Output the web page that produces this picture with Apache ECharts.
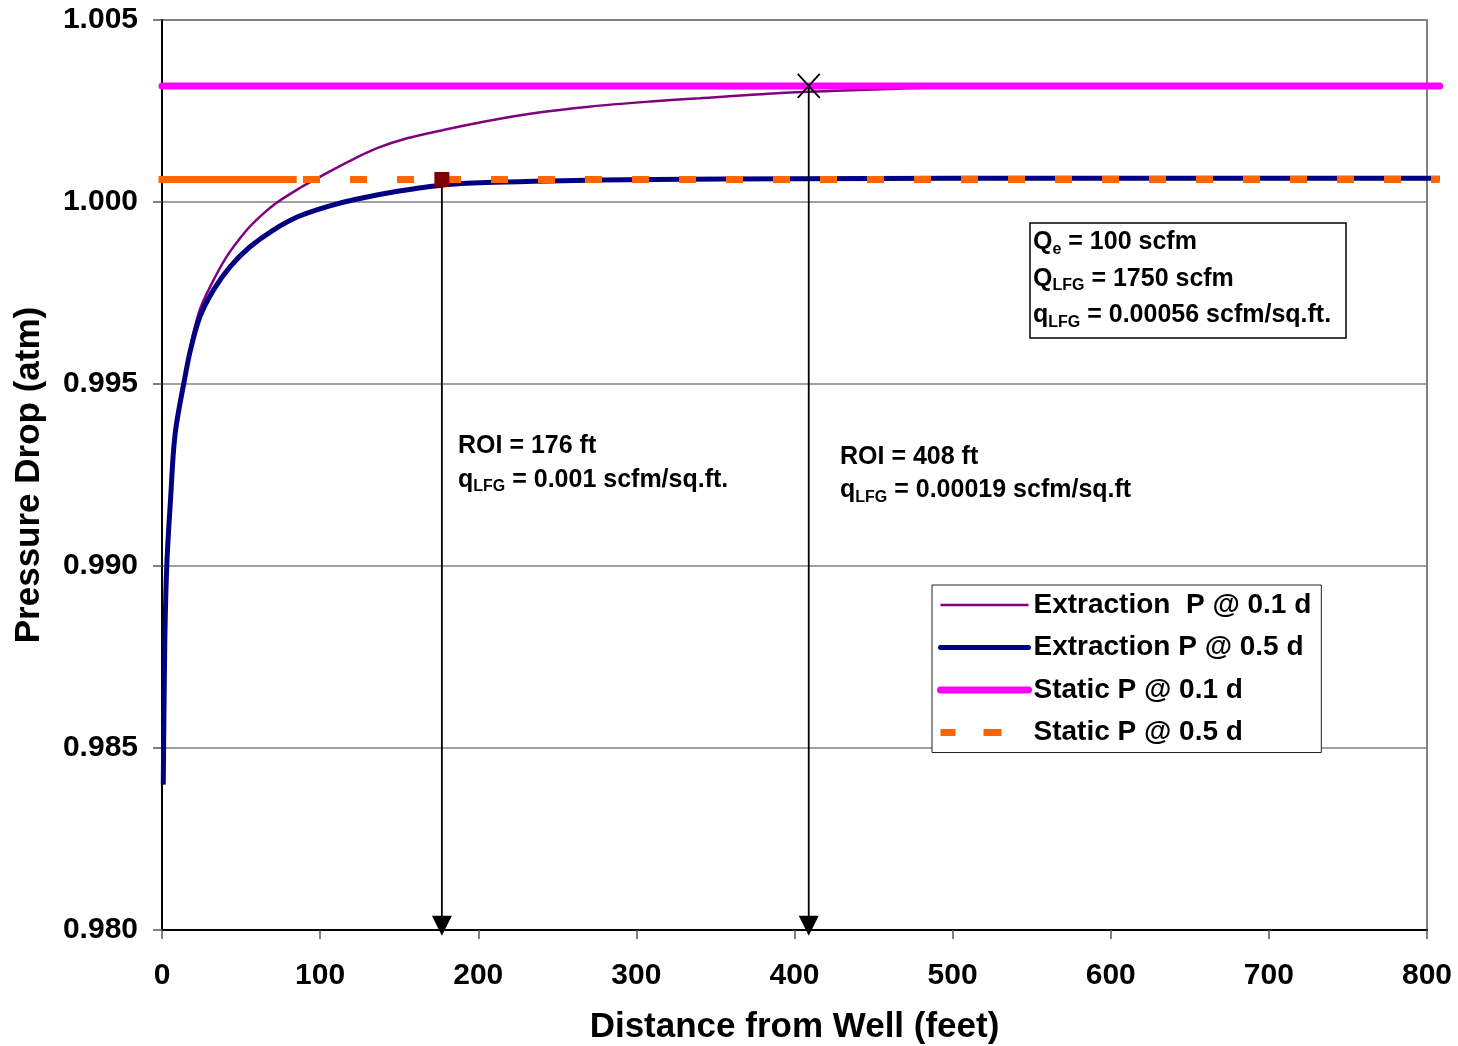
<!DOCTYPE html>
<html><head><meta charset="utf-8">
<script src="https://cdn.jsdelivr.net/npm/echarts@6/dist/echarts.min.js"></script>
<style>html,body{margin:0;padding:0;background:#fff}#c{width:1458px;height:1046px}</style>
</head><body><div id="c"></div>
<script>
// ---------- data ----------
const xTickValues = [0, 100, 200, 300, 400, 500, 600, 700, 800];
const yTickValues = [0.980, 0.985, 0.990, 0.995, 1.000, 1.005];

const ext05Dist = [0.8, 1.1, 1.4, 1.8, 2.4, 3.2, 4.2, 5.5, 7.0, 8.5, 10.5, 13.5, 17.7, 24.0, 32.5, 43.0, 55.7, 70.4, 86.2, 105, 122, 150, 178, 210, 245, 310, 400, 500, 600, 700, 808];
const ext05P    = [0.9840, 0.9854, 0.9866, 0.9880, 0.9892, 0.9902, 0.9910, 0.9919, 0.9930, 0.9937, 0.99425, 0.99495, 0.99588, 0.99685, 0.99758, 0.99822, 0.99877, 0.99923, 0.99960, 0.99988, 1.00007, 1.00030, 1.00047, 1.00054, 1.00058, 1.00062, 1.00064, 1.00065, 1.00065, 1.00065, 1.00065];

const ext01Dist = [0.8, 1.1, 1.4, 1.8, 2.4, 3.2, 4.2, 5.5, 7.0, 8.5, 10.5, 13.5, 17.7, 19.8, 24.0, 30.4, 40.9, 53.6, 62, 72.5, 86.2, 96, 110, 122, 136, 155, 178, 205, 235, 270, 309, 340, 389, 431, 488, 530, 600, 700, 808];
const ext01P    = [0.9840, 0.9854, 0.9866, 0.9880, 0.9892, 0.9902, 0.9910, 0.9919, 0.9930, 0.9937, 0.99425, 0.99497, 0.99595, 0.99640, 0.99705, 0.99767, 0.99850, 0.99923, 0.99960, 0.99998, 1.00036, 1.00060, 1.00093, 1.00120, 1.00148, 1.00175, 1.00198, 1.00222, 1.00244, 1.00262, 1.00276, 1.00285, 1.00299, 1.00306, 1.00315, 1.00318, 1.00319, 1.00319, 1.00319];

const staticDist = [0, 808];
const static01P = 1.00319;
const static05P = 1.00062;
const staticNearWellDist = [0, 83];   // portion drawn as a continuous line in the original

const roi1Dist = 177, roi1P = 1.00062;
const roi2Dist = 409, roi2P = 1.00319;
const arrowTipP = 0.98012;
const arrowLineEndP = 0.9803;

const seriesNames = ['Extraction  P @ 0.1 d', 'Extraction P @ 0.5 d', 'Static P @ 0.1 d', 'Static P @ 0.5 d'];

// ---------- chart ----------
const FONT = '"Liberation Sans", Arial, Helvetica, sans-serif';
const zip = (xs, ys) => xs.map((x, i) => [x, ys[i]]);
const chart = echarts.init(document.getElementById('c'), null, {renderer: 'canvas'});

// plot frame
const G = {left: 162, right: 31, top: 20, bottom: 116};
const plotW = 1458 - G.left - G.right;
const extraPx = 14;                       // curves in the original run a little past the 800 ft frame
const xMax = 800, xMaxExt = xMax * (plotW + extraPx) / plotW;

const rtext = (left, top, text, lh) => ({
  type: 'text', left: left, top: top, z: 100,
  style: {
    text: text, fill: '#000', fontFamily: FONT, fontSize: 25, fontWeight: 'bold', lineHeight: lh,
    rich: {
      sub: {fontFamily: FONT, fontSize: 16, fontWeight: 'bold', fill: '#000', padding: [14, 0, 0, 0], lineHeight: 16}
    }
  }
});

const onExt = {xAxisIndex: 1, yAxisIndex: 1};

chart.setOption({
  animation: false,
  backgroundColor: '#fff',
  grid: [
    {left: G.left, right: G.right, top: G.top, bottom: G.bottom, show: true, borderColor: '#808080', borderWidth: 2, backgroundColor: 'transparent', outerBoundsMode: 'none'},
    {left: G.left, right: G.right - extraPx, top: G.top, bottom: G.bottom, show: false, outerBoundsMode: 'none'}
  ],
  xAxis: [{
    type: 'value', min: 0, max: xMax, interval: 100,
    name: 'Distance from Well (feet)', nameLocation: 'middle', nameGap: 80,
    nameTextStyle: {fontFamily: FONT, fontSize: 35, fontWeight: 'bold', color: '#000'},
    axisLine: {show: true, onZero: false, lineStyle: {color: '#000', width: 2}},
    axisTick: {show: true, length: 9, lineStyle: {color: '#555', width: 1.5}},
    axisLabel: {fontFamily: FONT, fontSize: 30, fontWeight: 'bold', color: '#000', margin: 31,
      formatter: v => xTickValues.includes(v) ? String(v) : ''},
    splitLine: {show: false}
  }, {
    type: 'value', gridIndex: 1, min: 0, max: xMaxExt, show: false, splitLine: {show: false}
  }],
  yAxis: [{
    type: 'value', min: 0.98, max: 1.005, interval: 0.005,
    name: 'Pressure Drop (atm)', nameLocation: 'middle', nameGap: 115, nameRotate: 90,
    nameTextStyle: {fontFamily: FONT, fontSize: 35, fontWeight: 'bold', color: '#000'},
    axisLine: {show: true, onZero: false, lineStyle: {color: '#000', width: 2}},
    axisTick: {show: true, length: 9, lineStyle: {color: '#555', width: 1.5}},
    axisLabel: {fontFamily: FONT, fontSize: 30, fontWeight: 'bold', color: '#000', margin: 24,
      formatter: v => yTickValues.some(t => Math.abs(t - v) < 1e-9) ? v.toFixed(3) : ''},
    splitLine: {show: true, lineStyle: {color: '#808080', width: 1.5}}
  }, {
    type: 'value', gridIndex: 1, min: 0.98, max: 1.005, show: false, splitLine: {show: false}
  }],
  legend: {
    data: [
      {name: seriesNames[0], lineStyle: {width: 2.5, color: '#800080'}},
      {name: seriesNames[1], lineStyle: {width: 5, color: '#000080', cap: 'round'}},
      {name: seriesNames[2], lineStyle: {width: 7, color: '#FF00FF', cap: 'round'}},
      {name: seriesNames[3], lineStyle: {width: 7, color: '#FF6600', type: [18, 28], dashOffset: 3, cap: 'butt'}}
    ],
    orient: 'vertical', left: 932, top: 585,
    backgroundColor: '#fff', borderColor: '#222', borderWidth: 1,
    padding: [5, 10, 5, 5], itemGap: 12.5, itemWidth: 88, itemHeight: 30,
    itemStyle: {opacity: 0},
    textStyle: {fontFamily: FONT, fontSize: 28, fontWeight: 'bold', color: '#000', lineHeight: 30},
    selectedMode: false
  },
  series: [
    Object.assign({name: seriesNames[0], type: 'line', data: zip(ext01Dist, ext01P), showSymbol: false, symbol: 'none', smooth: 0.3,
      lineStyle: {color: '#800080', width: 2.5}, itemStyle: {color: '#800080'}, z: 2}, onExt),
    Object.assign({name: seriesNames[1], type: 'line', data: zip(ext05Dist, ext05P), showSymbol: false, symbol: 'none', smooth: 0.3,
      lineStyle: {color: '#000080', width: 5}, itemStyle: {color: '#000080'}, z: 3}, onExt),
    Object.assign({name: seriesNames[2], type: 'line', data: staticDist.map(d => [d, static01P]), showSymbol: false, symbol: 'none',
      lineStyle: {color: '#FF00FF', width: 7, cap: 'round'}, itemStyle: {color: '#FF00FF'}, z: 4}, onExt),
    Object.assign({name: seriesNames[3], type: 'line', data: staticDist.map(d => [d, static05P]), showSymbol: false, symbol: 'none',
      lineStyle: {color: '#FF6600', width: 7, type: [17, 30], cap: 'butt'}, itemStyle: {color: '#FF6600'}, z: 5}, onExt),
    Object.assign({name: 'static-near-well', type: 'line', data: staticNearWellDist.map(d => [d, static05P]), showSymbol: false, symbol: 'none',
      lineStyle: {color: '#FF6600', width: 7, cap: 'square'}, itemStyle: {color: '#FF6600'}, z: 5}, onExt),
    // ROI drop lines
    {name: 'roi1-line', type: 'line', data: [[roi1Dist, roi1P], [roi1Dist, arrowLineEndP]], showSymbol: false, symbol: 'none', clip: false,
      lineStyle: {color: '#000', width: 1.8}, z: 6},
    {name: 'roi2-line', type: 'line', data: [[roi2Dist, roi2P], [roi2Dist, arrowLineEndP]], showSymbol: false, symbol: 'none', clip: false,
      lineStyle: {color: '#000', width: 1.8}, z: 6},
    {name: 'arrow-heads', type: 'scatter', data: [[roi1Dist, arrowTipP], [roi2Dist, arrowTipP]], symbol: 'triangle', symbolRotate: 180,
      symbolSize: [20, 20], clip: false, itemStyle: {color: '#000', opacity: 1}, z: 7},
    {name: 'roi1-marker', type: 'scatter', data: [[roi1Dist, roi1P]], symbol: 'rect', symbolSize: 15, clip: false,
      itemStyle: {color: '#800000', opacity: 1}, z: 8},
    {name: 'roi2-marker', type: 'scatter', data: [[roi2Dist, roi2P]], symbol: 'path://M0,0L10,10M10,0L0,10', symbolSize: [22, 24], clip: false,
      itemStyle: {color: 'rgba(0,0,0,0)', borderColor: '#000', borderWidth: 2, opacity: 1}, z: 8}
  ],
  graphic: [
    rtext(458, 429, 'ROI = 176 ft\nq{sub|LFG} = 0.001 scfm/sq.ft.', 34),
    rtext(840, 441, 'ROI = 408 ft\nq{sub|LFG} = 0.00019 scfm/sq.ft', 33),
    {type: 'rect', shape: {x: 1030, y: 223, width: 316, height: 115}, z: 99,
      style: {fill: '#fff', stroke: '#000', lineWidth: 1.5}},
    rtext(1033, 224, 'Q{sub|e} = 100 scfm\nQ{sub|LFG} = 1750 scfm\nq{sub|LFG} = 0.00056 scfm/sq.ft.', 36.5)
  ]
});
</script>
</body></html>
